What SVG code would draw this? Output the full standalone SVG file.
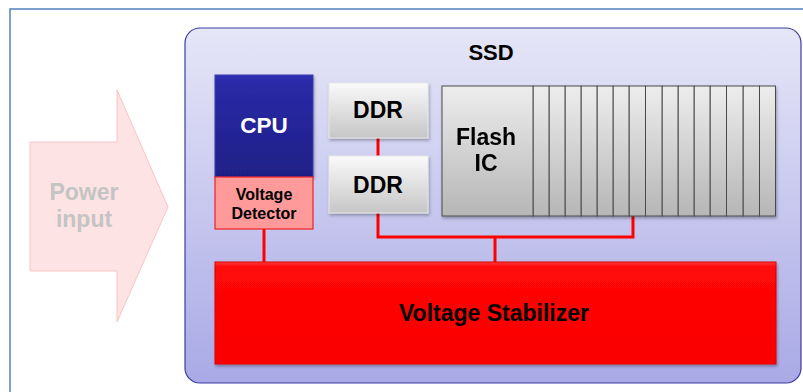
<svg xmlns="http://www.w3.org/2000/svg" width="803" height="392" viewBox="0 0 803 392">
<defs>
<linearGradient id="gSSD" x1="0" y1="0" x2="0" y2="1"><stop offset="0" stop-color="#e6e6f8"/><stop offset="1" stop-color="#a9a9e6"/></linearGradient>
<linearGradient id="gCPU" x1="0" y1="0" x2="0" y2="1"><stop offset="0" stop-color="#3030b4"/><stop offset="0.08" stop-color="#2a2aa8"/><stop offset="1" stop-color="#1f1f86"/></linearGradient>
<linearGradient id="gDDR" x1="0" y1="0" x2="0" y2="1"><stop offset="0" stop-color="#fafafa"/><stop offset="1" stop-color="#c6c6c6"/></linearGradient>
<linearGradient id="gFl" x1="0" y1="0" x2="0" y2="1"><stop offset="0" stop-color="#ededed"/><stop offset="1" stop-color="#b6b6b6"/></linearGradient>
<linearGradient id="gVS" x1="0" y1="0" x2="0" y2="1"><stop offset="0" stop-color="#ff3a3a"/><stop offset="0.05" stop-color="#ff0808"/><stop offset="1" stop-color="#fa0000"/></linearGradient>
<filter id="sh" x="-5%" y="-5%" width="110%" height="115%"><feDropShadow dx="1" dy="2" stdDeviation="1.5" flood-color="#000" flood-opacity="0.3"/></filter>
</defs>
<style>
.t{font-family:"Liberation Sans",Arial,sans-serif;font-weight:bold;text-anchor:middle}
.wire{stroke:#ff0000;stroke-width:3;fill:none}
.card{fill:url(#gFl);stroke:#4a4a4a;stroke-width:1}
</style>
<rect x="10" y="9" width="820" height="420" fill="#ffffff" stroke="#4f81bd" stroke-width="1.5"/>
<g id="power-input">
<path d="M30,142 H117 V90 L168,207 L117,322 V271 H30 Z" fill="#fde3e3" stroke="#f9c4c4" stroke-width="1"/>
<text class="t" x="84" y="200" font-size="23" fill="#c4c4c4">Power</text>
<text class="t" x="84" y="227" font-size="23" fill="#c4c4c4">input</text>
</g>
<g id="ssd">
<rect x="185" y="28" width="616" height="355" rx="15" fill="url(#gSSD)" stroke="#3c3ca0" stroke-width="1.2"/>
<text class="t" x="491" y="60" font-size="22" fill="#000">SSD</text>
</g>
<g id="connectors">
<path class="wire" d="M378,137 V157"/>
<path class="wire" d="M378,213 V237 H633 V215"/>
<path class="wire" d="M495,237 V263"/>
<path class="wire" d="M264,229 V263"/>
</g>
<g id="cpu">
<rect x="215" y="75" width="98" height="102" fill="url(#gCPU)" stroke="#3a3ab0" stroke-width="1" filter="url(#sh)"/>
<text class="t" x="264" y="133" font-size="22.5" fill="#ffffff">CPU</text>
</g>
<g id="voltage-detector">
<rect x="215" y="177" width="98" height="52" fill="#ff9a9a" stroke="#ee2222" stroke-width="1.2"/>
<text class="t" x="264" y="200" font-size="16" fill="#000">Voltage</text>
<text class="t" x="264" y="219" font-size="16" fill="#000">Detector</text>
</g>
<g id="ddr1">
<rect x="329" y="83" width="99" height="55" fill="url(#gDDR)" stroke="#e8e8e8" stroke-width="1" filter="url(#sh)"/>
<text class="t" x="378" y="118" font-size="23" fill="#000">DDR</text>
</g>
<g id="ddr2">
<rect x="329" y="156" width="99" height="57" fill="url(#gDDR)" stroke="#e8e8e8" stroke-width="1" filter="url(#sh)"/>
<text class="t" x="378" y="193" font-size="23" fill="#000">DDR</text>
</g>
<g id="flash-ic" filter="url(#sh)">
<rect class="card" x="759.5" y="86" width="16" height="130"/>
<rect class="card" x="743" y="86" width="16.5" height="130"/>
<rect class="card" x="726.5" y="86" width="16.5" height="130"/>
<rect class="card" x="710" y="86" width="16.5" height="130"/>
<rect class="card" x="694" y="86" width="16" height="130"/>
<rect class="card" x="678" y="86" width="16" height="130"/>
<rect class="card" x="662" y="86" width="16" height="130"/>
<rect class="card" x="645.5" y="86" width="16.5" height="130"/>
<rect class="card" x="629" y="86" width="16.5" height="130"/>
<rect class="card" x="613" y="86" width="16" height="130"/>
<rect class="card" x="597" y="86" width="16" height="130"/>
<rect class="card" x="581" y="86" width="16" height="130"/>
<rect class="card" x="565" y="86" width="16" height="130"/>
<rect class="card" x="549" y="86" width="16" height="130"/>
<rect class="card" x="533" y="86" width="16" height="130"/>
<rect class="card" x="442" y="86" width="91" height="130"/>
<text class="t" x="486" y="145" font-size="23" fill="#000">Flash</text>
<text class="t" x="486" y="171" font-size="23" fill="#000">IC</text>
</g>
<g id="voltage-stabilizer">
<rect x="215" y="262" width="561" height="102" fill="url(#gVS)" stroke="#e00000" stroke-width="1" filter="url(#sh)"/>
<text class="t" x="494" y="321" font-size="23" fill="#000">Voltage Stabilizer</text>
</g>
</svg>
